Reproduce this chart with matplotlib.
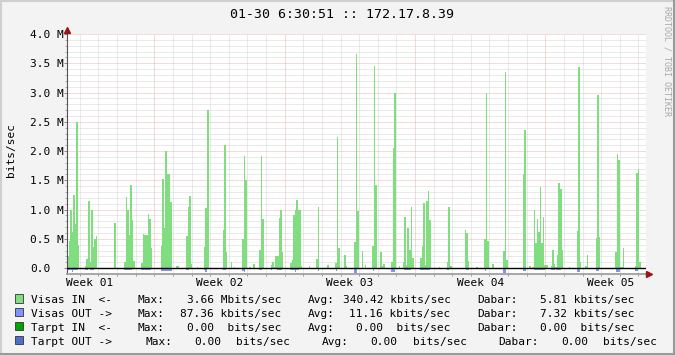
import numpy as np
import matplotlib
matplotlib.use('Agg')
import matplotlib.pyplot as plt
import matplotlib.transforms as mtransforms
from matplotlib.patches import Rectangle
from matplotlib.lines import Line2D

plt.rcParams['font.family'] = ['DejaVu Sans Mono']

# laikas dienomis nuo kairio krasto, reiksmes Mbit/s, vienas taskas kas 2 val.
STEP = 2 / 24.0
X_MAX = 31.12
FIRST_MONDAY = 4.715

in_starts = [0.03, 0.99, 2.55, 3.09, 4.02, 5.06, 5.88, 6.42, 6.99, 7.38,
             8.39, 8.82, 8.98, 9.43, 9.80, 10.02, 10.34, 10.97, 12.00, 13.01,
             13.40, 13.99, 14.42, 14.90, 15.44, 16.41, 16.84, 17.43, 17.84, 18.06,
             18.99, 20.00, 20.43, 21.39, 21.99, 22.42, 22.85, 23.44, 24.50, 24.84,
             25.00, 26.00, 26.97, 27.40, 27.85, 28.42, 29.46, 30.52]
in_values = [
    [0.20, 0.47, 1.00, 0.61, 1.25, 0.76, 2.50, 0.40],
    [0.04, 0.15, 1.15, 0.10, 1.00, 0.36, 0.50, 0.55],
    [0.77],
    [0.10, 1.22, 1.00, 0.57, 1.42, 0.82, 0.13],
    [0.09, 0.59, 0.57, 0.57, 0.93, 0.84, 0.34],
    [0.37, 1.52, 0.69, 2.00, 1.61, 1.61, 1.13],
    [0.03, 0.04],
    [0.55, 1.05, 1.23, 0.07],
    [0.02],
    [0.36, 1.02, 2.70],
    [0.65, 2.10, 0.28],
    [0.10],
    [0.02],
    [0.50, 1.92, 1.50],
    [0.02],
    [0.07],
    [0.31, 1.92, 0.84],
    [0.06, 0.11, 0.02, 0.21, 0.21, 0.86, 1.00, 0.27],
    [0.09, 0.14, 0.90, 1.00, 1.17, 1.00, 1.00, 0.04],
    [0.04],
    [0.16, 1.04],
    [0.06],
    [0.09, 2.24, 0.34],
    [0.22, 0.04],
    [0.44, 3.66, 0.97, 0.00, 0.00, 0.30, 0.00, 0.06],
    [0.38, 3.45, 1.42],
    [0.27, 0.04, 0.07],
    [0.11, 2.05, 3.00],
    [0.04],
    [0.10, 0.87, 0.05, 0.68, 0.31, 1.04, 0.18],
    [0.18, 0.38, 1.12, 0.05, 1.15, 1.32, 0.83],
    [0.02],
    [0.10, 1.04, 0.04],
    [0.65, 0.60, 0.13],
    [0.02],
    [0.50, 3.00, 0.47],
    [0.07],
    [0.30, 3.35, 0.14],
    [1.61, 2.36],
    [0.04],
    [0.02, 1.00, 0.43, 0.84, 0.62, 1.38, 0.43, 0.87, 0.06, 0.05],
    [0.04, 0.31, 0.07, 0.02, 0.23, 1.45, 1.35, 0.31],
    [0.02],
    [0.64, 3.43, 0.10],
    [0.04, 0.23],
    [0.51, 2.96, 0.53],
    [0.27, 1.95, 1.85, 0.02, 0.02, 0.34],
    [0.03, 1.63, 1.70, 0.10],
]

# OUT piesiamas zemyn nuo nulio
out_starts = [0.03, 0.99, 3.09, 4.02, 5.06, 6.42, 7.38, 8.39, 9.43, 10.34,
              10.97, 11.30, 12.00, 13.50, 14.45, 15.45, 16.45, 17.45, 18.10, 19.00,
              20.45, 21.45, 22.45, 23.45, 24.50, 25.10, 26.00, 26.30, 27.42, 28.45,
              29.50, 30.55]
out_values = [
    [0.03, 0.03, 0.03, 0.06, 0.04, 0.04, 0.04],
    [0.03, 0.03, 0.00, 0.03, 0.03, 0.03],
    [0.04, 0.04, 0.04, 0.04, 0.04],
    [0.03, 0.03, 0.03, 0.03, 0.03, 0.03],
    [0.05, 0.05, 0.05, 0.05, 0.05, 0.05, 0.05],
    [0.03, 0.03],
    [0.04, 0.06],
    [0.03, 0.03],
    [0.05, 0.06],
    [0.03, 0.03],
    [0.03],
    [0.03, 0.03, 0.03],
    [0.03, 0.04, 0.04, 0.06, 0.04, 0.03],
    [0.05],
    [0.05],
    [0.09, 0.09],
    [0.05],
    [0.06, 0.06],
    [0.03, 0.03, 0.03, 0.03, 0.03],
    [0.04, 0.04, 0.04, 0.04, 0.04, 0.04],
    [0.04],
    [0.04, 0.04],
    [0.05],
    [0.09, 0.09],
    [0.05, 0.05],
    [0.03, 0.03, 0.03, 0.03, 0.03, 0.03, 0.04],
    [0.03, 0.03, 0.03],
    [0.04, 0.04, 0.04],
    [0.06, 0.06],
    [0.05, 0.05],
    [0.06, 0.06, 0.06],
    [0.05, 0.05],
]

week_names = ['Week 01', 'Week 02', 'Week 03', 'Week 04', 'Week 05']
ytick_vals = [0.0, 0.5, 1.0, 1.5, 2.0, 2.5, 3.0, 3.5, 4.0]
ytick_names = ['0.0', '0.5 M', '1.0 M', '1.5 M', '2.0 M', '2.5 M', '3.0 M', '3.5 M', '4.0 M']

# legendos eilutes: (x pikseliais, tekstas)
legend_rows = [
    [(30.7, 'Visas IN  <-'), (137.7, 'Max:'), (186.7, '3.66 Mbits/sec'), (307.3, 'Avg:'),
     (342.7, '340.42 kbits/sec'), (477.7, 'Dabar:'), (540.0, '5.81 kbits/sec')],
    [(30.7, 'Visas OUT ->'), (137.7, 'Max:'), (179.9, '87.36 kbits/sec'), (307.3, 'Avg:'),
     (349.4, '11.16 kbits/sec'), (477.7, 'Dabar:'), (540.0, '7.32 kbits/sec')],
    [(30.7, 'Tarpt IN  <-'), (137.7, 'Max:'), (186.7, '0.00  bits/sec'), (307.3, 'Avg:'),
     (356.1, '0.00  bits/sec'), (477.7, 'Dabar:'), (540.0, '0.00  bits/sec')],
    [(30.7, 'Tarpt OUT ->'), (145.0, 'Max:'), (194.0, '0.00'), (236.0, 'bits/sec'),
     (321.7, 'Avg:'), (370.7, '0.00'), (412.7, 'bits/sec'), (498.3, 'Dabar:'),
     (561.7, '0.00'), (603.3, 'bits/sec')],
]
legend_colors = ['#80dd80', '#8094ff', '#00a400', '#4f6fcf']
legend_baselines = [303.3, 316.8, 330.7, 345.0]

IN_COLOR = '#80dd80'
OUT_COLOR = '#8094ff'
W, H = 675.0, 355.0

fig = plt.figure(figsize=(6.75, 3.55), dpi=100, facecolor='#f3f3f3')
ax = fig.add_axes([66.5 / W, 1 - 274 / H, (646 - 66.5) / W, 240 / H])
ax.set_facecolor('white')
ax.set_xlim(0, X_MAX)
ax.set_ylim(-0.1, 4.0)

# tinklelis (taskuotas)
day_lines = np.arange(FIRST_MONDAY - 4, X_MAX, 1.0)
week_lines = np.arange(FIRST_MONDAY, X_MAX, 7.0)
week_label_pos = FIRST_MONDAY - 3.5 + 7.0 * np.arange(len(week_names))
minor_days = [d for d in day_lines if min(abs(d - week_lines)) > 0.01]
h_major = [v for v in ytick_vals if v > 0]
h_minor = [round(v, 1) for v in np.arange(0.1, 4.0, 0.1) if abs(v * 2 - round(v * 2)) > 0.01]
dots = (0, (1, 1))
grid_kw = dict(linestyles=dots, linewidth=0.72, zorder=1, snap=True)
ax.vlines(minor_days, -0.1, 4.0, colors='#d6d6d6', **grid_kw)
ax.hlines(h_minor, 0, X_MAX, colors='#d6d6d6', **grid_kw)
ax.vlines(week_lines, -0.1, 4.0, colors='#eeb4b4', **grid_kw)
ax.hlines(h_major, 0, X_MAX, colors='#eeb4b4', **grid_kw)

# duomenys
for start, vals in zip(in_starts, in_values):
    xs = start + np.arange(len(vals) + 1) * STEP
    ys = list(vals) + [vals[-1]]
    ax.fill_between(xs, 0, ys, step='post', color=IN_COLOR, linewidth=0,
                    antialiased=False, zorder=2)
for start, vals in zip(out_starts, out_values):
    xs = start + np.arange(len(vals) + 1) * STEP
    ys = [-v for v in vals] + [-vals[-1]]
    ax.fill_between(xs, 0, ys, step='post', color=OUT_COLOR, linewidth=0,
                    antialiased=False, zorder=2)

ax.axhline(0, color='black', linewidth=1.0, zorder=3)

# asys
for s in ['top', 'right']:
    ax.spines[s].set_visible(False)
ax.spines['left'].set_color('#555555')
ax.spines['left'].set_linewidth(0.8)
ax.spines['bottom'].set_color('#a0a0a0')
ax.spines['bottom'].set_linewidth(1.3)

ax.set_xticks(week_label_pos)
ax.set_xticklabels(week_names, fontsize=8)
ax.set_xticks(day_lines, minor=True)
ax.tick_params(axis='x', which='major', length=0, pad=2.6)
ax.tick_params(axis='x', which='minor', length=1.6, width=0.7, color='#999999')

ax.set_yticks(ytick_vals)
ax.set_yticklabels(ytick_names, fontsize=8)
for lab in ax.get_yticklabels():
    lab.set_horizontalalignment('left')
ax.set_yticks(h_minor, minor=True)
ax.tick_params(axis='y', which='major', length=2.2, width=0.7, color='#888888', pad=24.0)
ax.tick_params(axis='y', which='minor', length=1.5, width=0.7, color='#aaaaaa')

# rodykles
up = mtransforms.offset_copy(ax.transAxes, fig=fig, x=0, y=4, units='dots')
ax.plot([0], [1], marker='^', markersize=4.5, color='#9b1515', transform=up, clip_on=False, zorder=5)
right = mtransforms.offset_copy(ax.transAxes, fig=fig, x=3, y=0, units='dots')
ax.plot([1], [0], marker='>', markersize=4.5, color='#9b1515', transform=right, clip_on=False, zorder=5)

# tekstai
fig.text(341.5 / W, 1 - 18.3 / H, '01-30 6:30:51 :: 172.17.8.39', ha='center', va='baseline',
         fontsize=9.5)
fig.text(11 / W, 1 - 150 / H, 'bits/sec', rotation=90, ha='center', va='center', fontsize=8)
fig.text(666.7 / W, 1 - 60.5 / H, 'RRDTOOL / TOBI OETIKER', rotation=270, ha='center',
         va='center', fontsize=6, color='#a8a8a8')

for row, color, base in zip(legend_rows, legend_colors, legend_baselines):
    fig.patches.append(Rectangle((15 / W, 1 - (base - 0.7) / H), 8.3 / W, 8.3 / H,
                                 transform=fig.transFigure, facecolor=color,
                                 edgecolor='#333333', linewidth=0.6))
    for x, txt in row:
        fig.text(x / W, 1 - base / H, txt, ha='left', va='baseline', fontsize=8)

# remelis
fig.add_artist(Line2D([0, 1], [1 - 1 / H] * 2, color='#cfcfcf', linewidth=1.5))
fig.add_artist(Line2D([1 / W] * 2, [0, 1], color='#cfcfcf', linewidth=1.5))
fig.add_artist(Line2D([0, 1], [1 / H] * 2, color='#9a9a9a', linewidth=1.5))
fig.add_artist(Line2D([1 - 1 / W] * 2, [0, 1], color='#9a9a9a', linewidth=1.5))

fig.savefig('out.png', dpi=100, facecolor=fig.get_facecolor())
plt.close(fig)
